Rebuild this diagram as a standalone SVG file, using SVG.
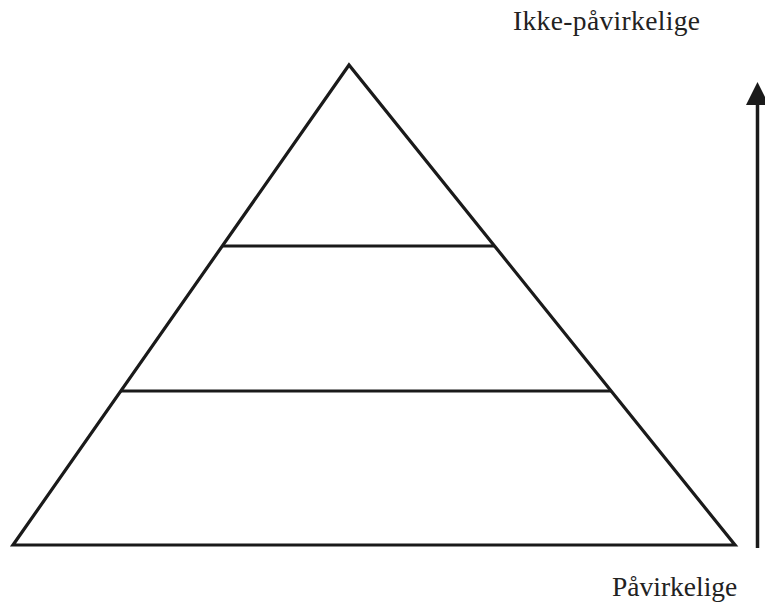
<svg xmlns="http://www.w3.org/2000/svg" width="765" height="613" viewBox="0 0 765 613">
<style>
.ln{stroke:#1a1a1a;stroke-width:3.2;fill:none;stroke-linejoin:miter}
.t{font-family:"Times New Roman","Liberation Serif",serif;font-size:27.5px;fill:#222}
</style>
<rect width="765" height="613" fill="#fff"/>
<g id="pyramid">
<polygon class="ln" points="349,65 13,545 735,545"/>
</g>
<g id="level-lines">
<line class="ln" x1="222" y1="246" x2="495" y2="246"/>
<line class="ln" x1="120" y1="391" x2="611" y2="391"/>
</g>
<g id="connectors">
<line x1="757.5" y1="548" x2="757.5" y2="103" stroke="#1a1a1a" stroke-width="3.5"/>
<polygon points="757.5,82 746,105 769,105" fill="#1a1a1a"/>
</g>
<g id="labels">
<text class="t" x="513" y="30" textLength="187">Ikke-påvirkelige</text>
<text class="t" x="612" y="596">Påvirkelige</text>
</g>
</svg>
